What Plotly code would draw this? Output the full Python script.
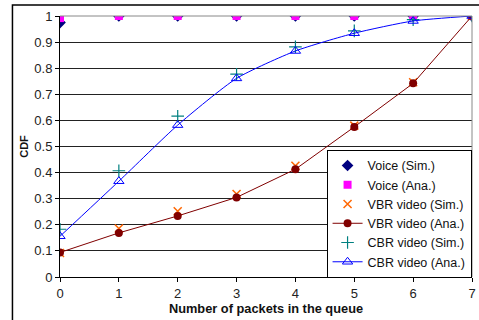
import plotly.graph_objects as go

x_vals = [0, 1, 2, 3, 4, 5, 6, 7]
voice_sim = [0.975, 1, 1, 1, 1, 1, 1, 1]
voice_ana = [0.992, 1, 1, 1, 1, 1, 1, 1]
vbr_sim = [0.092, 0.186, 0.252, 0.318, 0.426, 0.580, 0.746, 1.0]
vbr_ana = [0.094, 0.169, 0.234, 0.305, 0.413, 0.575, 0.742, 1.0]
cbr_sim = [0.183, 0.407, 0.616, 0.777, 0.882, 0.943, 0.986, 1.0]
cbr_ana = [0.156, 0.367, 0.582, 0.761, 0.866, 0.934, 0.981, 1.0]
x_ticks = [0, 1, 2, 3, 4, 5, 6, 7]
y_ticks = [0, 0.1, 0.2, 0.3, 0.4, 0.5, 0.6, 0.7, 0.8, 0.9, 1]
y_tick_text = ["0", "0.1", "0.2", "0.3", "0.4", "0.5", "0.6", "0.7", "0.8", "0.9", "1"]

FONT = "Liberation Sans, Arial, sans-serif"

fig = go.Figure()
fig.add_trace(go.Scatter(x=x_vals, y=voice_sim, mode="markers", name="Voice (Sim.)",
                         marker=dict(symbol="diamond", size=9, color="#000080")))
fig.add_trace(go.Scatter(x=x_vals, y=voice_ana, mode="markers", name="Voice (Ana.)",
                         marker=dict(symbol="square", size=8, color="#FF00FF")))
fig.add_trace(go.Scatter(x=x_vals, y=vbr_sim, mode="markers", name="VBR video (Sim.)",
                         marker=dict(symbol="x-thin", size=8, color="#FF6600",
                                     line=dict(color="#FF6600", width=1.5))))
fig.add_trace(go.Scatter(x=x_vals, y=vbr_ana, mode="lines+markers", name="VBR video (Ana.)",
                         line=dict(color="#800000", width=1),
                         marker=dict(symbol="circle", size=8, color="#800000")))
fig.add_trace(go.Scatter(x=x_vals, y=cbr_sim, mode="markers", name="CBR video (Sim.)",
                         marker=dict(symbol="cross-thin", size=9, color="#008080",
                                     line=dict(color="#008080", width=1.2))))
fig.add_trace(go.Scatter(x=x_vals, y=cbr_ana, mode="lines+markers", name="CBR video (Ana.)",
                         line=dict(color="#0000FF", width=1, shape="spline", smoothing=0.6),
                         marker=dict(symbol="triangle-up-open", size=9, color="#0000FF",
                                     line=dict(color="#0000FF", width=1))))

fig.update_layout(
    width=479, height=320,
    margin=dict(l=60, r=3, t=16, b=43),
    paper_bgcolor="white", plot_bgcolor="white",
    font=dict(family=FONT, size=13, color="#222222"),
    showlegend=True,
    legend=dict(x=0.647, y=0.487, xanchor="left", yanchor="top",
                bgcolor="white", bordercolor="black", borderwidth=1,
                font=dict(family=FONT, size=12.5, color="#111111"),
                itemwidth=30, tracegroupgap=0),
    xaxis=dict(range=[0, 7], tickvals=x_ticks, ticktext=[str(v) for v in x_ticks],
               showgrid=False, zeroline=False, showline=True, linecolor="black", linewidth=1,
               ticks="outside", ticklen=4, tickcolor="black", ticklabeloverflow="allow",
               title=dict(text="<b>Number of packets in the queue</b>",
                          font=dict(family=FONT, size=12.8, color="#111111"), standoff=4)),
    yaxis=dict(range=[0, 1], tickvals=y_ticks, ticktext=y_tick_text,
               showgrid=True, gridcolor="#222222", gridwidth=1, zeroline=False,
               showline=True, linecolor="black", linewidth=1,
               ticks="outside", ticklen=4, tickcolor="black", ticklabeloverflow="allow",
               title=dict(text="<b>CDF</b>", font=dict(family=FONT, size=11, color="#111111"),
                          standoff=3)),
    shapes=[
        dict(type="line", xref="paper", yref="paper", x0=0, x1=1, y0=1, y1=1,
             line=dict(color="#888888", width=1), layer="above"),
        dict(type="line", xref="paper", yref="paper", x0=1, x1=1, y0=0, y1=1,
             line=dict(color="#888888", width=1), layer="above"),
        dict(type="rect", xref="paper", yref="paper", x0=-0.1154, x1=1.05, y0=-0.3, y1=1.042,
             line=dict(color="black", width=1.5), fillcolor="rgba(0,0,0,0)", layer="above"),
    ],
)

fig.write_html("out.html", config={"displayModeBar": False})
with open("out.html", "r", encoding="utf-8") as f:
    html = f.read()
html = html.replace("<body>", '<body style="margin:0;padding:0;">', 1)
html = html.replace("<head>", '<head><style>html,body{margin:0;padding:0;overflow:hidden;}</style>', 1)
with open("out.html", "w", encoding="utf-8") as f:
    f.write(html)
